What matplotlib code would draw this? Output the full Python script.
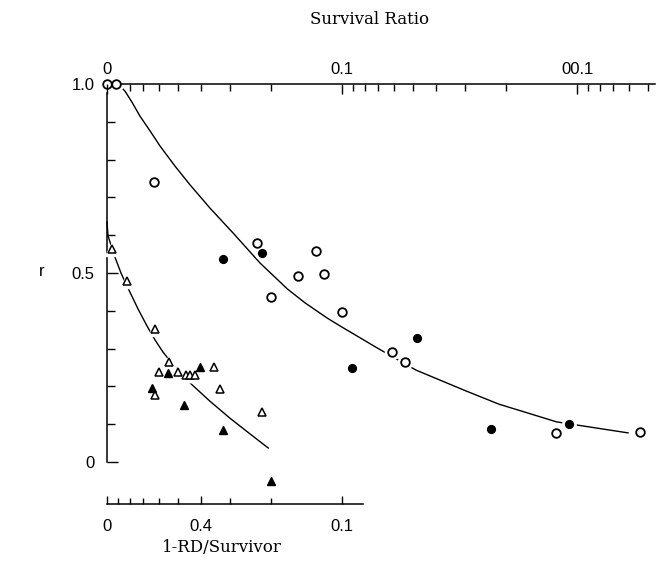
import matplotlib
matplotlib.use("Agg")
import matplotlib.pyplot as plt
from matplotlib.ticker import NullFormatter


# ============================================================
# Data (survival ratio on a reversed log axis, r on linear axis)
# ============================================================

open_circ_s = [1.0, 0.915, 0.631, 0.230, 0.200, 0.154, 0.129, 0.119, 0.100,
               0.0612, 0.054, 0.0123, 0.0054]
open_circ_r = [1.0, 1.0, 0.741, 0.579, 0.437, 0.492, 0.558, 0.497, 0.397,
               0.291, 0.265, 0.077, 0.079]

fill_circ_s = [0.321, 0.219, 0.0906, 0.048, 0.0232, 0.0108]
fill_circ_r = [0.537, 0.553, 0.249, 0.328, 0.087, 0.100]

open_tri_s = [0.952, 0.822, 0.625, 0.545, 0.600, 0.499, 0.461, 0.443, 0.422,
              0.351, 0.331, 0.625, 0.219]
open_tri_r = [0.563, 0.479, 0.352, 0.265, 0.238, 0.238, 0.230, 0.230, 0.230,
              0.251, 0.193, 0.177, 0.132]

fill_tri_s = [0.643, 0.550, 0.402, 0.470, 0.321, 0.200]
fill_tri_r = [0.196, 0.235, 0.251, 0.151, 0.085, -0.050]

# fitted curves
upper_s = [0.898, 0.838, 0.783, 0.724, 0.656, 0.595, 0.514, 0.443, 0.365,
           0.291, 0.223, 0.171, 0.1437, 0.1158, 0.1020, 0.0710, 0.0484,
           0.0297, 0.0215, 0.0122, 0.00607]
upper_r = [1.0, 0.981, 0.952, 0.915, 0.876, 0.836, 0.783, 0.733, 0.672,
           0.606, 0.526, 0.458, 0.421, 0.381, 0.360, 0.302, 0.243,
           0.188, 0.153, 0.106, 0.077]

lower_s = [1.0, 0.990, 0.925, 0.872, 0.814, 0.738, 0.676, 0.625, 0.578,
           0.514, 0.443, 0.365, 0.300, 0.246, 0.206]
lower_r = [0.635, 0.598, 0.542, 0.500, 0.460, 0.405, 0.360, 0.323, 0.291,
           0.251, 0.209, 0.161, 0.116, 0.074, 0.037]

top_major = [1.0, 0.1, 0.01]
top_labels = ["0", "0.1", "00.1"]
top_minor = [0.8, 0.7, 0.6, 0.5, 0.4, 0.3, 0.2,
             0.09, 0.08, 0.07, 0.06, 0.05, 0.04, 0.03, 0.02,
             0.009, 0.008, 0.007, 0.006, 0.005]

bottom_major = [1.0, 0.4, 0.1]
bottom_labels = ["0", "0.4", "0.1"]
bottom_minor = [0.9, 0.8, 0.7, 0.6, 0.5, 0.3, 0.2]

y_major = [0.0, 0.5, 1.0]
y_labels = ["0", "0.5", "1.0"]
y_minor = [0.1, 0.2, 0.3, 0.4, 0.6, 0.7, 0.8, 0.9]


# ============================================================
# Figure
# ============================================================

W, H = 664, 564
fig = plt.figure(figsize=(W / 100, H / 100), dpi=100)
ax = fig.add_axes([107 / W, 1 - 490 / H, (655 - 107) / W, (490 - 84) / H])

XLIM = (1.0, 0.00466)
YLIM = (-0.0741, 1.0)
tick_font = dict(family="Liberation Sans", size=12)

ax.set_xscale("log")
ax.set_xlim(XLIM)
ax.set_ylim(YLIM)

# curves
lw = 1.0
ax.plot(upper_s, upper_r, color="black", lw=lw, zorder=2, clip_on=False)
ax.plot(lower_s, lower_r, color="black", lw=lw, zorder=2, clip_on=False)

# white halos break the curves around the markers, as in the print
for s, r, m, ms in [(open_circ_s, open_circ_r, "o", 6.2),
                    (fill_circ_s, fill_circ_r, "o", 5.6),
                    (open_tri_s, open_tri_r, "^", 6.2),
                    (fill_tri_s, fill_tri_r, "^", 6.2)]:
    ax.plot(s, r, ls="none", marker=m, ms=ms + 4, mfc="white", mec="white",
            zorder=3, clip_on=False)

ax.plot(open_circ_s, open_circ_r, ls="none", marker="o", ms=6.2, mfc="white",
        mec="black", mew=1.3, zorder=4, clip_on=False)
ax.plot(fill_circ_s, fill_circ_r, ls="none", marker="o", ms=5.6, mfc="black",
        mec="black", zorder=4, clip_on=False)
ax.plot(open_tri_s, open_tri_r, ls="none", marker="^", ms=6.2, mfc="white",
        mec="black", mew=1.1, zorder=4, clip_on=False)
ax.plot(fill_tri_s, fill_tri_r, ls="none", marker="^", ms=6.2, mfc="black",
        mec="black", zorder=4, clip_on=False)

# spines
ax.spines["top"].set_visible(False)
ax.spines["right"].set_visible(False)
ax.spines["left"].set_bounds(0.0, 1.0)
ax.spines["bottom"].set_position(("outward", 10))
ax.spines["bottom"].set_bounds(0.0814, 1.0)
for sp in ["left", "bottom"]:
    ax.spines[sp].set_linewidth(1.1)

# bottom axis: 1-RD/Survivor
ax.set_xticks(bottom_major)
ax.set_xticklabels(bottom_labels, fontdict=tick_font)
ax.set_xticks(bottom_minor, minor=True)
ax.xaxis.set_minor_formatter(NullFormatter())
ax.tick_params(axis="x", which="major", direction="in", length=6, width=1, pad=11)
ax.tick_params(axis="x", which="minor", direction="in", length=4, width=1)

# left axis: r
ax.set_yticks(y_major)
ax.set_yticklabels(y_labels, fontdict=tick_font)
ax.set_yticks(y_minor, minor=True)
ax.tick_params(axis="y", which="major", direction="in", length=8, width=1, pad=9)
ax.tick_params(axis="y", which="minor", direction="in", length=6, width=1)

# top axis: Survival Ratio
ax_top = ax.twiny()
ax_top.set_xscale("log")
ax_top.set_xlim(XLIM)
for sp in ["left", "right", "bottom"]:
    ax_top.spines[sp].set_visible(False)
ax_top.spines["top"].set_bounds(0.87, XLIM[1])
ax_top.spines["top"].set_linewidth(1.1)
ax_top.set_xticks(top_major)
ax_top.set_xticklabels(top_labels, fontdict=tick_font)
ax_top.set_xticks(top_minor, minor=True)
ax_top.xaxis.set_minor_formatter(NullFormatter())
ax_top.tick_params(axis="x", which="major", direction="in", length=7, width=1, pad=5)
ax_top.tick_params(axis="x", which="minor", direction="in", length=5, width=1)

# axis titles
fig.text(370 / W, 1 - 20 / H, "Survival Ratio", family="DejaVu Serif",
         size=12, ha="center", va="center")
fig.text(222 / W, 1 - 548 / H, "1-RD/Survivor", family="DejaVu Serif",
         size=12, ha="center", va="center")
fig.text(42 / W, 1 - 272 / H, "r", family="Liberation Sans",
         size=12, ha="center", va="center")

fig.savefig("out.png", dpi=100, facecolor="white")
plt.close(fig)
